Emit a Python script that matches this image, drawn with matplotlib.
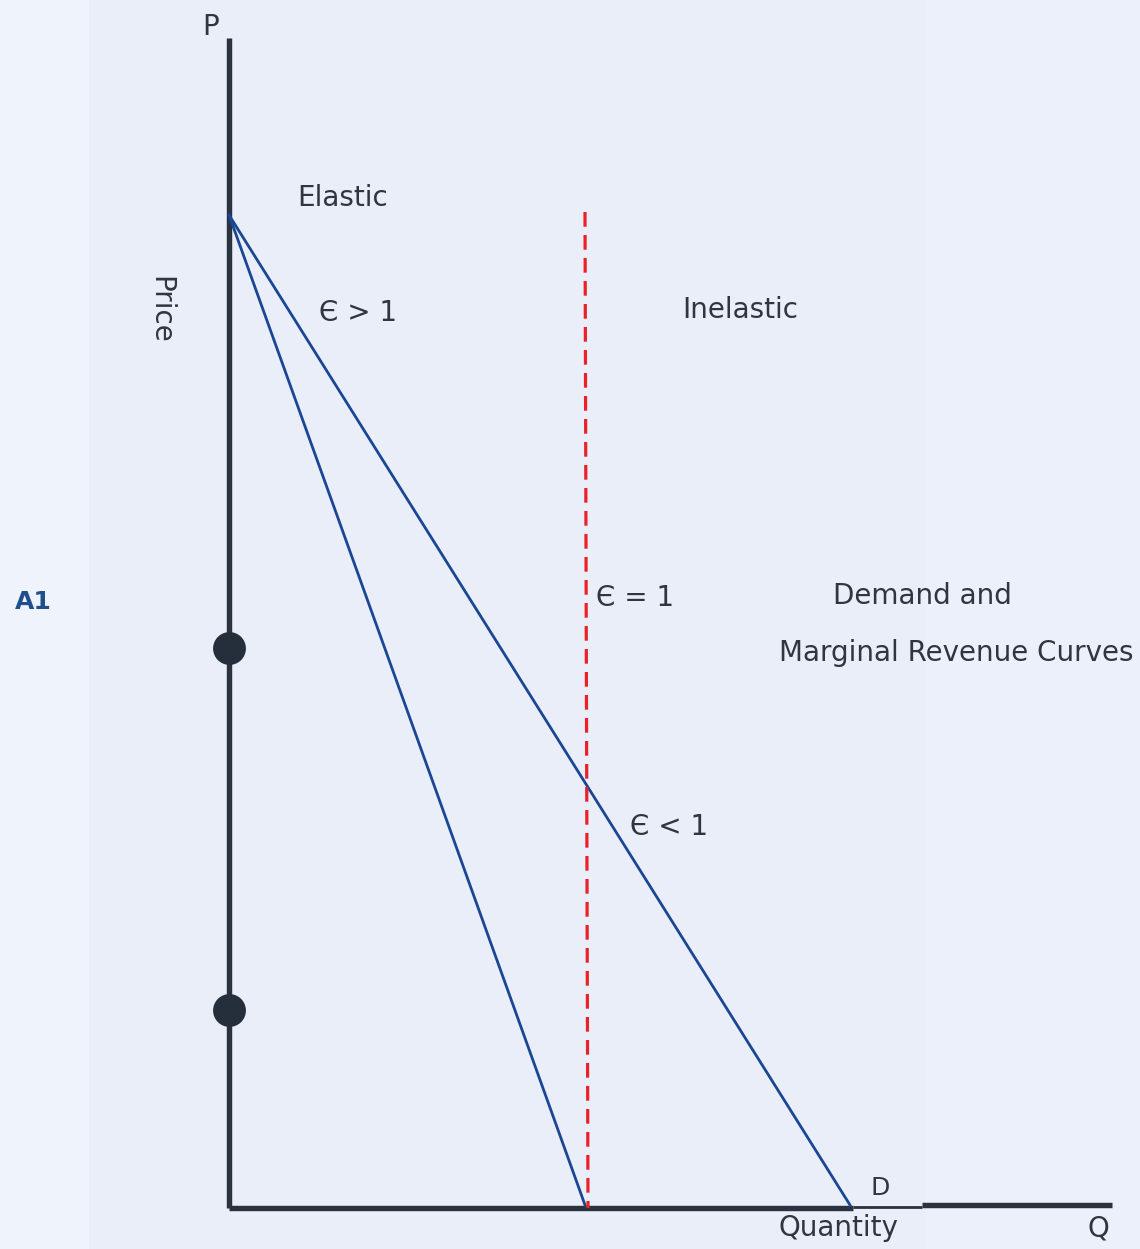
import matplotlib
matplotlib.use("Agg")
import matplotlib.pyplot as plt

# ── Data (units: pixels measured from the P/Q origin) ─────────────────────────
P_AXIS_TOP = 1170
Q_AXIS_END = 883
Q_AXIS_STEP = (624, 693)          # thin segment of the quantity axis

P_INTERCEPT = 993
DEMAND_Q = [0, 621]
DEMAND_P = [P_INTERCEPT, 3]
MR_Q = [0, 356]
MR_P = [P_INTERCEPT, 3]
UNIT_Q = [356, 359]               # unit-elastic dashed line
UNIT_P = [996, 0]
DOT_P = [560, 198]

LABELS = [
    # text, q, p, size, rotation
    ("P", -18, 1181, 20, 0),
    ("Price", -69, 898, 20, -90),
    ("Elastic", 114, 1010, 20, 0),
    ("Є > 1", 129, 895, 20, 0),
    ("Inelastic", 511, 898, 20, 0),
    ("Є = 1", 406, 610, 20, 0),
    ("Demand and", 693, 612, 20, 0),
    ("Marginal Revenue Curves", 727, 555, 20, 0),
    ("Є < 1", 440, 381, 20, 0),
    ("D", 651, 20, 18, 0),
    ("Quantity", 609, -20, 20, 0),
    ("Q", 869, -20, 20, 0),
]

BG = "#e9eef9"
AXIS_C = "#29323e"
BLUE = "#1a4693"
RED = "#ec2027"

fig = plt.figure(figsize=(11.4, 12.49), dpi=100, facecolor=BG)
ax = fig.add_axes([0, 0, 1, 1])
ax.set_xlim(-229, 1140 - 229)
ax.set_ylim(1208 - 1249, 1208)
ax.set_facecolor(BG)
ax.axis("off")

# faint scanner bands
ax.axvspan(-229, -140, color="#eff3fb", zorder=0, lw=0)
ax.axvspan(696, 911, color="#ebf0fa", zorder=0, lw=0)

# axes
ax.plot([0, 0], [0, P_AXIS_TOP], color=AXIS_C, lw=3.9, solid_capstyle="butt", zorder=3)
ax.plot([0, Q_AXIS_STEP[0]], [0, 0], color=AXIS_C, lw=3.9, solid_capstyle="butt", zorder=3)
ax.plot(Q_AXIS_STEP, [1, 1], color=AXIS_C, lw=2.0, solid_capstyle="butt", zorder=3)
ax.plot([Q_AXIS_STEP[1], Q_AXIS_END], [3, 3], color=AXIS_C, lw=3.9, solid_capstyle="butt", zorder=3)

# demand and marginal revenue
ax.plot(DEMAND_Q, DEMAND_P, color=BLUE, lw=2.0, zorder=4)
ax.plot(MR_Q, MR_P, color=BLUE, lw=2.0, zorder=4)

# unit elasticity
ax.plot(UNIT_Q, UNIT_P, color=RED, lw=2.3, dashes=(4.6, 2.6), zorder=5)

# dots on price axis
ax.scatter([0] * len(DOT_P), DOT_P, s=560, color="#252e3b", zorder=6, lw=0)

for text, q, p, size, rot in LABELS:
    ax.text(q, p, text, fontsize=size, rotation=rot, color="#2f363d",
            ha="center", va="center", family="DejaVu Sans")

ax.text(-196, 606, "A1", fontsize=18, fontweight="bold", color="#1f4f8c",
        ha="center", va="center")

fig.savefig("out.png", dpi=100, facecolor=BG)
